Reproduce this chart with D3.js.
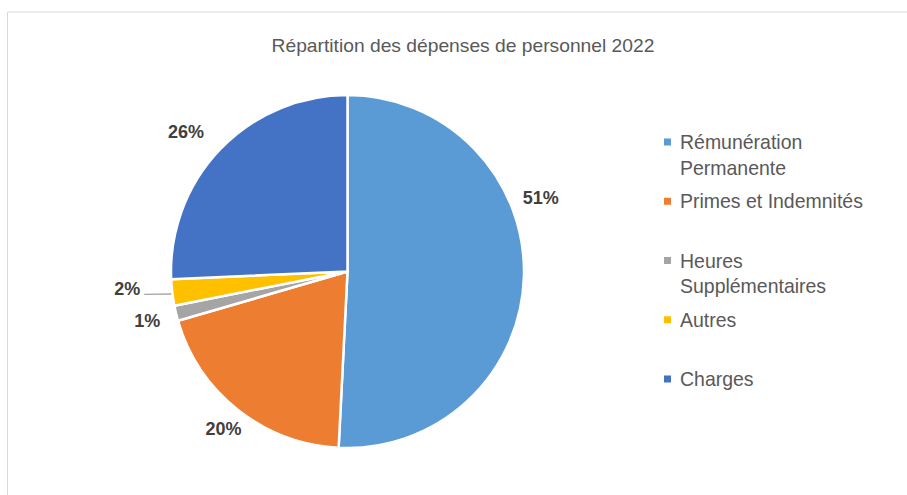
<!DOCTYPE html>
<html>
<head>
<meta charset="utf-8">
<script src="https://cdn.jsdelivr.net/npm/d3@7"></script>
<style>
  body { margin: 0; background: #fff; }
  svg { display: block; font-family: "Liberation Sans", Arial, sans-serif; }
</style>
</head>
<body>
<svg id="chart" width="907" height="495"></svg>
<script>
// data
const categories = ["Rémunération Permanente", "Primes et Indemnités", "Heures Supplémentaires", "Autres", "Charges"];
const legendLines = [["Rémunération", "Permanente"], ["Primes et Indemnités"], ["Heures", "Supplémentaires"], ["Autres"], ["Charges"]];
const shares = [50.8, 19.7, 1.4, 2.4, 25.7];
const pctLabels = ["51%", "20%", "1%", "2%", "26%"];
const colors = ["#5B9BD5", "#ED7D31", "#A5A5A5", "#FFC000", "#4472C4"];

const title = "Répartition des dépenses de personnel 2022";

// label placement (polar, around the pie centre), index -> {angle override in deg, radius}
const labelPlace = [
  { angle: 69, radius: 207 },
  { angle: null, radius: 200 },
  { angle: null, radius: 206 },
  { angle: 265.5, radius: 221 },
  { angle: 311, radius: 214 }
];

const svg = d3.select("#chart");
const cx = 347.5, cy = 271.5, radius = 176.5;

// frame (only top and left edges visible in the crop)
svg.append("line")
  .attr("x1", 7.5).attr("y1", 12).attr("x2", 907).attr("y2", 12)
  .attr("stroke", "#d9d9d9").attr("stroke-width", 1);
svg.append("line")
  .attr("x1", 7.5).attr("y1", 12).attr("x2", 7.5).attr("y2", 495)
  .attr("stroke", "#d9d9d9").attr("stroke-width", 1);

// title, sized to the reference width
const titleText = svg.append("text")
  .attr("x", 463)
  .attr("y", 52)
  .attr("text-anchor", "middle")
  .style("font-size", "17px")
  .style("fill", "#595959")
  .text(title);
const tw = titleText.node().getComputedTextLength();
titleText.style("font-size", (17 * 383 / tw).toFixed(2) + "px");

const pie = d3.pie().sort(null).value(d => d);
const arcs = pie(shares);
const arc = d3.arc().innerRadius(0).outerRadius(radius);

const g = svg.append("g").attr("transform", `translate(${cx},${cy})`);

g.selectAll(".slice")
  .data(arcs)
  .join("path")
  .attr("class", "slice")
  .attr("d", arc)
  .attr("fill", (d, i) => colors[i])
  .attr("stroke", "#fff")
  .attr("stroke-width", 2.5)
  .attr("stroke-linejoin", "round");

const labelPoint = (d, i) => {
  const p = labelPlace[i];
  const a = p.angle != null ? p.angle * Math.PI / 180 : (d.startAngle + d.endAngle) / 2;
  return d3.pointRadial(a, p.radius);
};

// leader line for the "Autres" label
const autres = arcs[3];
const edge = d3.pointRadial((autres.startAngle + autres.endAngle) / 2, radius);
const lp = labelPoint(autres, 3);
g.append("path")
  .attr("d", `M${lp[0] + 17},${lp[1] + 5.5}L${edge[0] - 1},${edge[1] + 1.5}`)
  .attr("stroke", "#a6a6a6")
  .attr("stroke-width", 1.3)
  .attr("fill", "none");

g.selectAll(".label")
  .data(arcs)
  .join("text")
  .attr("class", "label")
  .attr("x", (d, i) => labelPoint(d, i)[0])
  .attr("y", (d, i) => labelPoint(d, i)[1])
  .attr("dy", "0.36em")
  .attr("text-anchor", "middle")
  .style("font-size", "18px")
  .style("font-weight", "bold")
  .style("fill", "#404040")
  .text((d, i) => pctLabels[i]);

// legend
const legendY = d3.scalePoint().domain(categories).range([142, 379]);
const legend = svg.append("g");
const items = legend.selectAll(".item")
  .data(categories)
  .join("g")
  .attr("class", "item")
  .attr("transform", d => `translate(664,${legendY(d)})`);

items.append("rect")
  .attr("x", 0).attr("y", -3.5)
  .attr("width", 7).attr("height", 7)
  .attr("fill", (d, i) => colors[i]);

items.each(function (d, i) {
  const t = d3.select(this).append("text")
    .attr("class", "legend-text")
    .attr("x", 16)
    .attr("y", 0)
    .style("font-size", "16.5px")
    .style("fill", "#595959");
  legendLines[i].forEach((line, j) => {
    t.append("tspan")
      .attr("x", 16)
      .attr("y", j * 25.5)
      .attr("dy", "0.36em")
      .text(line);
  });
});

// scale legend font so "Primes et Indemnités" spans like the reference
const ref = legend.selectAll(".legend-text").filter((d, i) => i === 1).node();
const lw = ref.getComputedTextLength();
const lfs = Math.min(19.5, 16.5 * 183 / lw);
legend.selectAll(".legend-text").style("font-size", lfs.toFixed(2) + "px");
</script>
</body>
</html>
